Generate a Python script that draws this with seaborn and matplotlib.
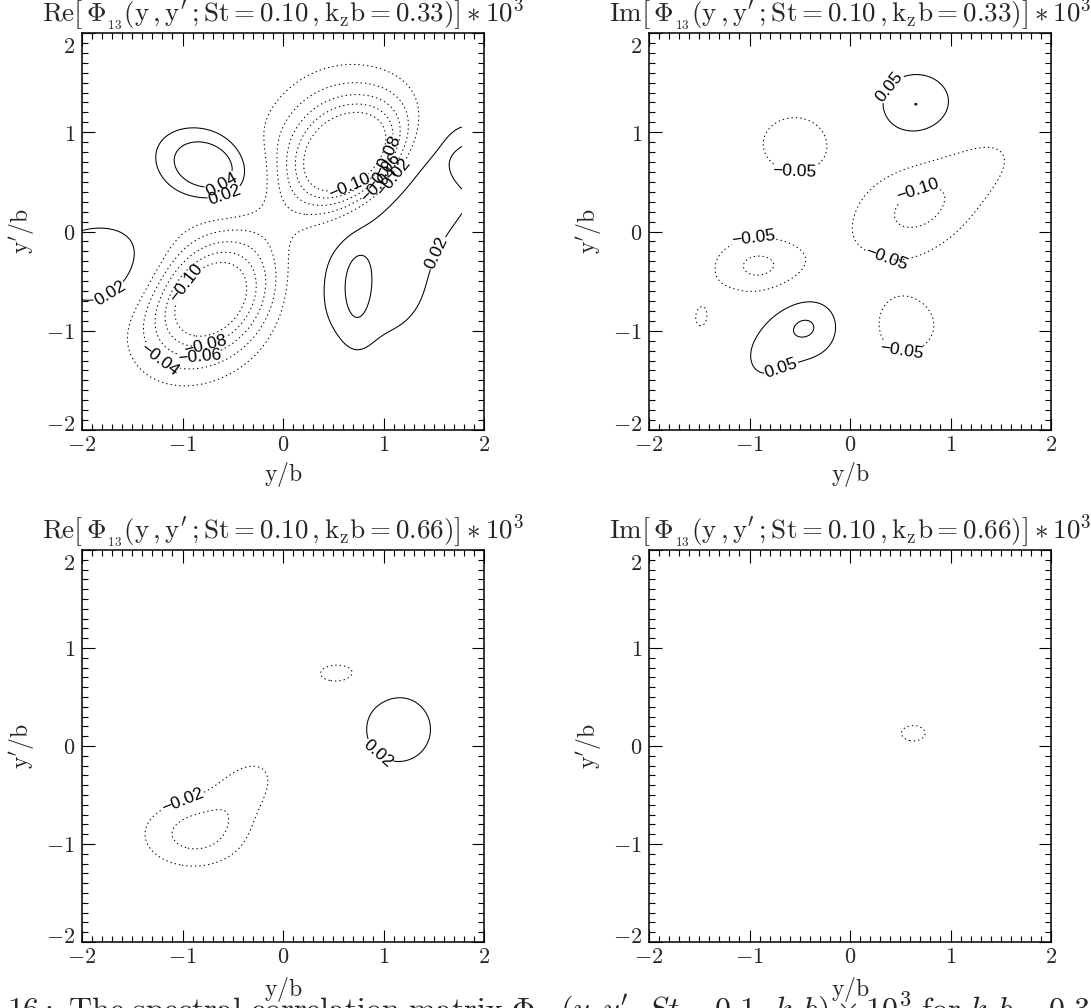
import numpy as np
import matplotlib
matplotlib.use("Agg")
import matplotlib.pyplot as plt
from matplotlib.ticker import MultipleLocator, FuncFormatter
import seaborn as sns

# ---------------------------------------------------------------
# Spectral correlation Phi_13(y, y'), St = 0.10 (values x 1e3).
# Each field is described by a few elliptical lobes:
# centre (cx, cy), amplitude, semi-axes (sa, sb) and tilt in degrees.
# ---------------------------------------------------------------

# Re, k_z b = 0.33
re33_cx = [-0.72, 0.68, 0.42, -0.76, -1.80, 0.85, 0.73, 1.35, 1.95]
re33_cy = [-0.68, 0.74, 1.05, 0.66, -0.35, -0.65, -0.65, 0.50, 0.64]
re33_amp = [-0.145, -0.150, -0.050, 0.065, 0.040, 0.026, 0.018, 0.040, -0.040]
re33_sa = [0.50, 0.45, 0.50, 0.34, 0.45, 0.60, 0.12, 0.70, 0.19]
re33_sb = [0.37, 0.30, 0.38, 0.24, 0.33, 0.50, 0.35, 0.42, 0.13]
re33_ang = [45, 40, 40, -20, 0, 0, 0, 42, 0]

# Im, k_z b = 0.33
im33_cx = [0.66, -0.55, 0.85, 0.68, -0.92, -0.42, -0.88, 0.55, -1.48]
im33_cy = [1.27, 0.88, 0.40, 0.14, -0.35, -0.95, -1.30, -0.95, -0.88]
im33_amp = [0.103, -0.068, -0.075, -0.045, -0.107, 0.105, 0.050, -0.068, -0.053]
im33_sa = [0.29, 0.40, 0.85, 0.35, 0.33, 0.27, 0.25, 0.36, 0.14]
im33_sb = [0.26, 0.34, 0.33, 0.30, 0.22, 0.25, 0.30, 0.33, 0.22]
im33_ang = [0, 0, 30, 20, 0, 0, 0, 0, 0]

# Re, k_z b = 0.66
re66_cx = [-0.90, -0.40, 0.55, 1.15]
re66_cy = [-0.90, -0.45, 0.74, 0.17]
re66_amp = [-0.045, -0.028, -0.025, 0.035]
re66_sa = [0.37, 0.35, 0.27, 0.30]
re66_sb = [0.25, 0.22, 0.135, 0.31]
re66_ang = [0, 45, 0, 0]

# Im, k_z b = 0.66
im66_cx = [0.63]
im66_cy = [0.13]
im66_amp = [-0.022]
im66_sa = [0.27]
im66_sb = [0.18]
im66_ang = [0]

# contour levels of each panel
re33_levels = [-0.10, -0.08, -0.06, -0.04, -0.02, 0.02, 0.04]
im33_levels = [-0.10, -0.05, 0.05, 0.10]
re66_levels = [-0.04, -0.02, 0.02, 0.04]
im66_levels = [-0.02]

# contour labels: (level, y, y') near which the label sits
re33_labels = [(0.04, -0.62, 0.50), (0.02, -0.55, 0.28), (0.02, -1.70, -0.66),
               (-0.10, -0.99, -0.49), (-0.04, -1.19, -1.24), (-0.08, -0.76, -1.21),
               (-0.06, -0.83, -1.31), (-0.10, 0.70, 0.37), (-0.08, 1.12, 0.72),
               (-0.06, 1.05, 0.55), (-0.04, 0.98, 0.45), (-0.02, 1.15, 0.50),
               (0.02, 1.40, -0.15)]
im33_labels = [(0.05, 0.39, 1.46), (-0.05, -0.55, 0.60), (-0.10, 0.70, 0.35),
               (-0.05, 0.37, -0.22), (-0.05, -0.96, -0.05), (0.05, -0.68, -1.39),
               (-0.05, 0.53, -1.08)]
re66_labels = [(-0.02, -0.98, -0.60), (0.02, 0.95, -0.07)]
im66_labels = []

panel_tags = [("Re", "0.33"), ("Im", "0.33"), ("Re", "0.66"), ("Im", "0.66")]

sns.set_theme(style="ticks")
plt.rcParams["mathtext.fontset"] = "cm"
plt.rcParams["font.family"] = ["DejaVu Serif"]

# sample grid of the computed field
gy = np.linspace(-2.0, 1.78, 260)
GX, GY = np.meshgrid(gy, gy)


def lobes(cx, cy, amp, sa, sb, ang):
    z = np.zeros_like(GX)
    for x0, y0, a, s1, s2, t in zip(cx, cy, amp, sa, sb, ang):
        th = np.deg2rad(t)
        u = (GX - x0) * np.cos(th) + (GY - y0) * np.sin(th)
        v = -(GX - x0) * np.sin(th) + (GY - y0) * np.cos(th)
        z += a * np.exp(-0.5 * ((u / s1) ** 2 + (v / s2) ** 2))
    return z


fields = [
    lobes(re33_cx, re33_cy, re33_amp, re33_sa, re33_sb, re33_ang),
    lobes(im33_cx, im33_cy, im33_amp, im33_sa, im33_sb, im33_ang),
    lobes(re66_cx, re66_cy, re66_amp, re66_sa, re66_sb, re66_ang),
    lobes(im66_cx, im66_cy, im66_amp, im66_sa, im66_sb, im66_ang),
]
levels = [re33_levels, im33_levels, re66_levels, im66_levels]
labels = [re33_labels, im33_labels, re66_labels, im66_labels]

W, H = 1091, 1008
fig = plt.figure(figsize=(W / 100, H / 100), dpi=100)
boxes = [(82, 33, 484, 430), (649, 33, 1051, 430),
         (82, 550, 484, 942), (649, 550, 1051, 942)]


def fmt_label(v):
    s = "%.2f" % abs(v)
    return ("\u2212" + s) if v < 0 else s


def title_for(part, kz):
    return (r"$\mathrm{%s}\left[\,\Phi_{_{13}}(\mathrm{y\,,y'\,;St=0.10\,,k_zb=%s})\right]\ast\mathrm{10}^{3}$"
            % (part, kz))


xfmt = FuncFormatter(lambda v, p: r"$%d$" % round(v))
# the end labels of the y axis are set slightly inside the frame corners
yfmt = FuncFormatter(lambda v, p: "" if abs(round(v)) == 2 else r"$%d$" % round(v))

for k, (x0, y0, x1, y1) in enumerate(boxes):
    ax = fig.add_axes([x0 / W, 1 - y1 / H, (x1 - x0) / W, (y1 - y0) / H])
    z = fields[k]
    for lev in levels[k]:
        if not (z.min() < lev < z.max()):
            continue
        style = (0, (1.3, 2.9)) if lev < 0 else "solid"
        cs = ax.contour(GX, GY, z, levels=[lev], colors="black",
                        linewidths=0.75, linestyles=[style])
        spots = [(lx, ly) for l, lx, ly in labels[k] if abs(l - lev) < 1e-9]
        if spots:
            with plt.rc_context({"font.family": ["Liberation Sans"]}):
                ax.clabel(cs, fmt=fmt_label, fontsize=12.5, inline=True,
                          inline_spacing=2, manual=spots)
    ax.set_xlim(-2, 2)
    ax.set_ylim(-2, 2)
    ax.xaxis.set_major_locator(MultipleLocator(1))
    ax.yaxis.set_major_locator(MultipleLocator(1))
    ax.xaxis.set_minor_locator(MultipleLocator(0.1))
    ax.yaxis.set_minor_locator(MultipleLocator(0.1))
    ax.xaxis.set_major_formatter(xfmt)
    ax.yaxis.set_major_formatter(yfmt)
    ax.tick_params(which="both", direction="in", top=True, right=True,
                   color="black", width=0.8)
    ax.tick_params(which="major", length=9, labelsize=16)
    ax.tick_params(axis="x", which="major", pad=3)
    ax.tick_params(axis="y", which="major", pad=5)
    ax.tick_params(which="minor", length=4.5)
    ax.annotate(r"$2$", xy=(0, 2), xycoords=("axes fraction", "data"),
                xytext=(-5, -2), textcoords="offset points",
                ha="right", va="top", fontsize=16)
    ax.annotate(r"$-2$", xy=(0, -2), xycoords=("axes fraction", "data"),
                xytext=(-5, 3.5), textcoords="offset points",
                ha="right", va="center", fontsize=16)
    for sp in ax.spines.values():
        sp.set_linewidth(1.1)
        sp.set_color("black")
    ax.set_xlabel(r"$\mathrm{y/b}$", fontsize=17)
    ax.set_ylabel(r"$\mathrm{y'/b}$", fontsize=17)
    ax.xaxis.set_label_coords(0.5, -0.075 if k < 2 else -0.085)
    ax.yaxis.set_label_coords(-0.115, 0.5)
    ax.set_title(title_for(*panel_tags[k]), fontsize=19.5, pad=1.5)
    ax.set_facecolor("white")

caption = (r"$\mathrm{16{:}\ The\ spectral\ correlation\ matrix\ }\Phi_{13}(y,y^{\prime},\,St=0.1,\,k_zb)\times 10^3"
           r"\mathrm{\ for\ }k_zb=0.33$")
fig.text(0.006, 1 - 991 / H, caption, fontsize=23, ha="left", va="top")
fig.savefig("out.png", dpi=100, facecolor="white")
